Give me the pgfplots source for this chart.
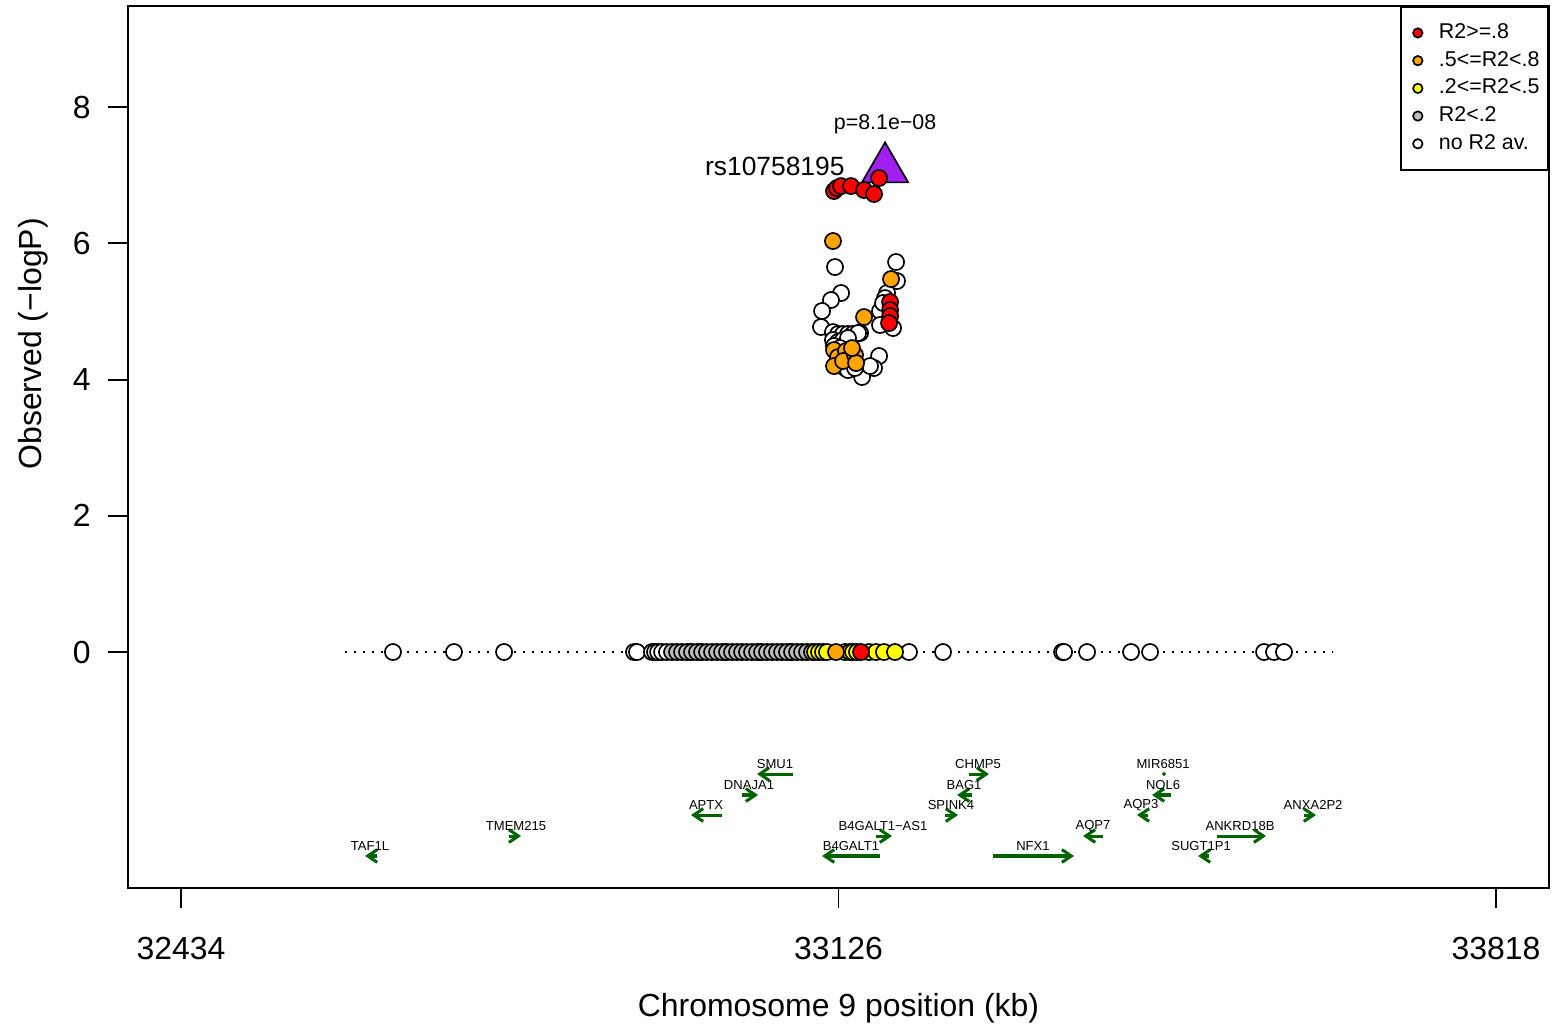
\documentclass[border=0pt]{standalone}
\usepackage{pgfplots}
\pgfplotsset{compat=1.18}
\usepackage{fontspec}
\setmainfont{Liberation Sans}
\usetikzlibrary{arrows.meta}
\definecolor{rred}{HTML}{FF0000}
\definecolor{rorange}{HTML}{FFA500}
\definecolor{ryellow}{HTML}{FFFF00}
\definecolor{rgrey}{HTML}{BEBEBE}
\definecolor{rpurple}{HTML}{A020F0}
\definecolor{rgreen}{HTML}{006400}
\begin{document}
\begin{tikzpicture}[x=1pt,y=1pt]
\path (0,0) rectangle (560.16,369);
\begin{axis}[
  at={(46.08pt,49.32pt)}, anchor=south west,
  scale only axis, width=511.56pt, height=317.52pt,
  xmin=32378.2, xmax=33873.8, ymin=-3.464, ymax=9.483,
  scaled x ticks=false, scaled y ticks=false,
  xtick={32434,33126,33818}, xticklabels={32434,33126,33818},
  ytick={0,2,4,6,8}, yticklabels={0,2,4,6,8},
  tick pos=left, tick align=outside, major tick length=7.2pt,
  /pgf/number format/assume math mode=true,
  axis line style={line width=0.7pt}, every tick/.style={black, line width=0.7pt},
  tick label style={font=\fontsize{11.5}{13}\selectfont},
  xticklabel style={yshift=-6.8pt},
  yticklabel style={xshift=-2.7pt},
  label style={font=\fontsize{11.5}{13}\selectfont},
  xlabel={Chromosome 9 position (kb)},
  ylabel={Observed (\char"2212logP)},
  xlabel style={at={(axis description cs:0.5,-0.1361)}, anchor=center},
  ylabel style={at={(axis description cs:-0.0669,0.617)}, anchor=center},
  legend style={at={(1,1)}, anchor=north east, draw=black, line width=0.7pt,
    font=\fontsize{7.7}{9}\selectfont, inner xsep=2.6pt, inner ysep=5.4pt,
    nodes={inner sep=0.5pt}, column sep=5.3pt, row sep=2.1pt},
  legend cell align=left,
  legend image code/.code={\path[draw=none] (-3.3pt,0pt) -- (1.8pt,0pt); \draw[#1] plot coordinates {(0pt,0pt)};},
]
% legend
\addlegendimage{mark=*, mark size=1.7pt, mark options={fill=rred, draw=black, line width=0.6pt}}
\addlegendentry{R2>=.8}
\addlegendimage{mark=*, mark size=1.7pt, mark options={fill=rorange, draw=black, line width=0.6pt}}
\addlegendentry{.5<=R2<.8}
\addlegendimage{mark=*, mark size=1.7pt, mark options={fill=ryellow, draw=black, line width=0.6pt}}
\addlegendentry{.2<=R2<.5}
\addlegendimage{mark=*, mark size=1.7pt, mark options={fill=rgrey, draw=black, line width=0.6pt}}
\addlegendentry{R2<.2}
\addlegendimage{mark=*, mark size=1.7pt, mark options={fill=white, draw=black, line width=0.6pt}}
\addlegendentry{no R2 av.}

% dotted baseline
\addplot[forget plot, black, line width=0.7pt, dash pattern=on 0.7pt off 2.5pt] coordinates {(32606.6,0) (33646.5,0)};

% reference SNP
\addplot[forget plot, only marks, mark=triangle*, mark size=9.6pt, mark options={fill=rpurple, draw=black, line width=0.6pt}] coordinates {(33175.0,7.09)};

% white (no R2)
\addplot[forget plot, only marks, mark=*, mark size=2.9pt, mark options={fill=white, draw=black, line width=0.6pt}] coordinates {
(32657.1,0) (32721.3,0) (32774.0,0) (32910.8,0) (32913.9,0) (32929.7,0) (32932.9,0) (32936.1,0) (32940.3,0) (32945.5,0)
(32969.7,0) (32980.2,0) (33006.6,0) (33043.4,0) (33075.0,0)
(33200.2,0) (33236.0,0) (33361.3,0) (33363.4,0) (33387.6,0) (33433.9,0) (33453.9,0) (33573.9,0) (33584.4,0) (33594.9,0)
(33122.3,5.651) (33186.6,5.725) (33187.6,5.446) (33177.1,5.270) (33175.0,5.196) (33128.7,5.270) (33118.1,5.167)
(33108.7,5.006) (33107.6,4.771) (33169.7,5.006) (33172.9,5.123) (33183.4,4.756) (33169.7,4.800) (33148.7,4.683)
(33120.2,4.697) (33125.5,4.668) (33130.8,4.668) (33136.0,4.668) (33141.3,4.668) (33146.6,4.683)
(33120.2,4.580) (33125.5,4.550) (33130.8,4.580) (33136.0,4.609) (33121.3,4.492) (33127.6,4.462)
(33168.7,4.345) (33163.4,4.169) (33150.8,4.037) (33159.2,4.198) (33125.5,4.257) (33132.9,4.169) (33136.0,4.139) (33143.4,4.169)
};

% grey (R2<.2)
\addplot[forget plot, only marks, mark=*, mark size=2.9pt, mark options={fill=rgrey, draw=black, line width=0.6pt}] coordinates {
(32950.8,0) (32956.1,0) (32961.3,0) (32966.6,0) (32971.8,0) (32977.1,0) (32982.4,0) (32987.6,0) (32992.9,0) (32998.2,0)
(33003.4,0) (33008.7,0) (33013.9,0) (33019.2,0) (33024.5,0) (33029.7,0) (33035.0,0) (33040.3,0) (33045.5,0) (33050.8,0)
(33056.0,0) (33061.3,0) (33066.6,0) (33071.8,0) (33077.1,0) (33082.4,0) (33087.6,0) (33092.9,0) (33098.1,0)
};

% yellow
\addplot[forget plot, only marks, mark=*, mark size=2.9pt, mark options={fill=ryellow, draw=black, line width=0.6pt}] coordinates {
(33101.3,0) (33105.5,0) (33109.7,0) (33113.9,0) (33132.9,0) (33138.1,0) (33141.3,0) (33145.5,0) (33158.1,0) (33165.5,0) (33173.9,0) (33185.5,0)
};

% orange
\addplot[forget plot, only marks, mark=*, mark size=2.9pt, mark options={fill=rorange, draw=black, line width=0.6pt}] coordinates {
(33123.4,0)
(33120.2,6.033) (33181.3,5.475) (33152.9,4.917) (33121.3,4.433) (33125.5,4.330) (33121.3,4.198) (33133.9,4.418)
(33130.8,4.272) (33143.4,4.360) (33144.5,4.242) (33140.2,4.462)
};

% red
\addplot[forget plot, only marks, mark=*, mark size=2.9pt, mark options={fill=rred, draw=black, line width=0.6pt}] coordinates {
(33149.7,0)
(33121.3,6.767) (33124.4,6.811) (33128.7,6.840) (33139.2,6.840) (33152.9,6.782) (33163.4,6.723) (33168.7,6.958)
(33180.3,5.138) (33180.3,5.020) (33180.3,4.932) (33179.2,4.829)
};

\node[anchor=east, font=\fontsize{9.5}{11}\selectfont, inner sep=0pt] at (axis cs:33132.9,7.134) {rs10758195};
\node[anchor=center, font=\fontsize{7.7}{9}\selectfont, inner sep=0pt] at (axis cs:33175.0,7.750) {p=8.1e\char"2212 08};

% genes
\pgfplotsset{gene/.style={forget plot, rgreen, line width=1.1pt, -{Straight Barb[length=3.4pt,width=4.6pt]}}}
\addplot[gene] coordinates {(32640.3,-2.994) (32627.7,-2.994)};
\addplot[gene] coordinates {(32779.2,-2.701) (32791.9,-2.701)};
\addplot[gene] coordinates {(33003.4,-2.393) (32970.8,-2.393)};
\addplot[gene] coordinates {(33024.5,-2.099) (33041.3,-2.099)};
\addplot[gene] coordinates {(33078.1,-1.791) (33040.3,-1.791)};
\addplot[gene] coordinates {(33169.7,-2.994) (33108.7,-2.994)};
\addplot[gene] coordinates {(33165.5,-2.701) (33182.3,-2.701)};
\addplot[gene] coordinates {(33238.1,-2.393) (33251.8,-2.393)};
\addplot[gene] coordinates {(33266.5,-2.099) (33250.8,-2.099)};
\addplot[gene] coordinates {(33263.4,-1.791) (33284.4,-1.791)};
\addplot[gene] coordinates {(33288.6,-2.994) (33373.9,-2.994)};
\addplot[gene] coordinates {(33404.4,-2.701) (33383.4,-2.701)};
\addplot[gene] coordinates {(33451.8,-2.393) (33440.2,-2.393)};
\addplot[gene] coordinates {(33476.0,-2.099) (33456.0,-2.099)};
\addplot[gene] coordinates {(33524.4,-2.701) (33576.0,-2.701)};
\addplot[gene] coordinates {(33516.0,-2.994) (33504.4,-2.994)};
\addplot[gene] coordinates {(33616.0,-2.393) (33628.6,-2.393)};
\addplot[forget plot, only marks, mark=*, mark size=0.5pt, rgreen] coordinates {(33468.6,-1.791)};

\begin{scope}[every node/.style={font=\fontsize{4.7}{5.5}\selectfont, inner sep=0pt, anchor=center}]
\node at (axis cs:32632.9,-2.848) {TAF1L};
\node at (axis cs:32786.6,-2.554) {TMEM215};
\node at (axis cs:32986.6,-2.246) {APTX};
\node at (axis cs:33031.8,-1.952) {DNAJA1};
\node at (axis cs:33059.2,-1.644) {SMU1};
\node at (axis cs:33139.2,-2.848) {B4GALT1};
\node at (axis cs:33172.9,-2.554) {B4GALT1\char"2212 AS1};
\node at (axis cs:33244.4,-2.246) {SPINK4};
\node at (axis cs:33258.1,-1.952) {BAG1};
\node at (axis cs:33272.9,-1.644) {CHMP5};
\node at (axis cs:33330.7,-2.848) {NFX1};
\node at (axis cs:33393.9,-2.554) {AQP7};
\node at (axis cs:33444.4,-2.246) {AQP3};
\node at (axis cs:33467.6,-1.952) {NOL6};
\node at (axis cs:33467.6,-1.644) {MIR6851};
\node at (axis cs:33548.6,-2.554) {ANKRD18B};
\node at (axis cs:33507.6,-2.848) {SUGT1P1};
\node at (axis cs:33625.5,-2.246) {ANXA2P2};
\end{scope}
\end{axis}
\end{tikzpicture}
\end{document}
